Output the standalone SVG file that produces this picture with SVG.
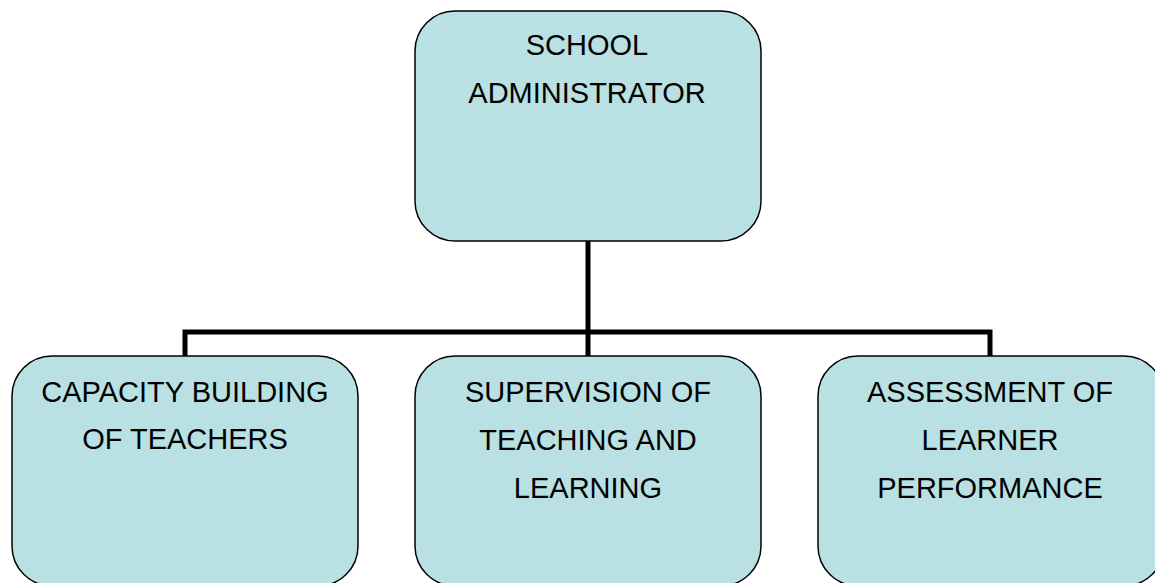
<svg xmlns="http://www.w3.org/2000/svg" width="1155" height="583" viewBox="0 0 1155 583">
  <style>
    .box { fill: #b9e0e3; stroke: #000; stroke-width: 1.5; }
    .label { font-family: "Liberation Sans", Arial, sans-serif; font-size: 29px; fill: #000; text-anchor: middle; }
    .link { fill: none; stroke: #000; stroke-width: 5; stroke-linejoin: miter; }
  </style>
  <rect width="1155" height="583" fill="#fff"/>

  <!-- org chart connectors -->
  <g id="connectors">
    <path class="link" d="M588 241 V356"/>
    <path class="link" d="M185 356 V332 H990 V356"/>
  </g>

  <g id="node-admin">
    <rect class="box" x="415" y="11" width="346" height="230" rx="40" ry="40"/>
    <text class="label" x="587" y="55">SCHOOL</text>
    <text class="label" x="587" y="103">ADMINISTRATOR</text>
  </g>

  <g id="node-capacity">
    <rect class="box" x="12" y="356" width="346" height="230" rx="40" ry="40"/>
    <text class="label" x="185" y="402">CAPACITY BUILDING</text>
    <text class="label" x="185" y="449">OF TEACHERS</text>
  </g>

  <g id="node-supervision">
    <rect class="box" x="415" y="356" width="346" height="230" rx="40" ry="40"/>
    <text class="label" x="588" y="402">SUPERVISION OF</text>
    <text class="label" x="588" y="450">TEACHING AND</text>
    <text class="label" x="588" y="498">LEARNING</text>
  </g>

  <g id="node-assessment">
    <rect class="box" x="818" y="356" width="346" height="230" rx="40" ry="40"/>
    <text class="label" x="990" y="402">ASSESSMENT OF</text>
    <text class="label" x="990" y="450">LEARNER</text>
    <text class="label" x="990" y="498">PERFORMANCE</text>
  </g>
</svg>
